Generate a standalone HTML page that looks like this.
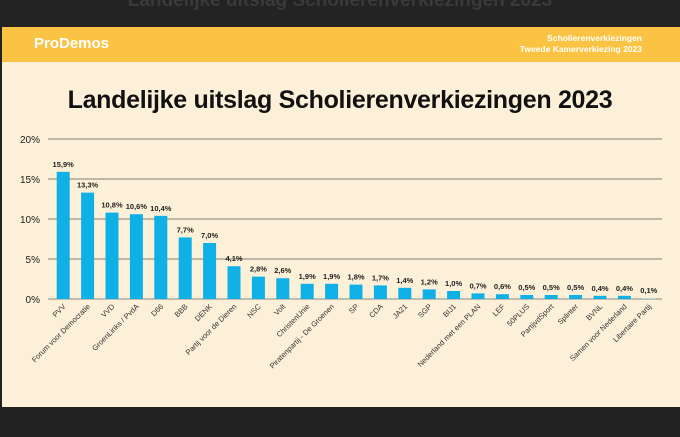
<!DOCTYPE html>
<html><head><meta charset="utf-8"><style>
body{margin:0;width:680px;height:437px;background:#222;overflow:hidden;font-family:"Liberation Sans",sans-serif}
#top{position:absolute;left:0;top:0;width:680px;height:27px;background:#232323;overflow:hidden}
#ghost{position:absolute;left:0;width:680px;top:-10px;text-align:center;color:#3a3a3a;font-size:19px;font-weight:bold}
#hdr{position:absolute;left:2px;top:27px;width:678px;height:35px;background:#fbc343}
#logo{position:absolute;left:32px;top:8px;color:#fff;font-size:15px;font-weight:bold}
#sub{position:absolute;right:38px;top:6px;color:#fff;font-size:8.5px;font-weight:bold;text-align:right;line-height:11px}
#panel{position:absolute;left:2px;top:62px;width:678px;height:345px;background:#fdf0d8}
#title{position:absolute;left:0;width:680px;top:86px;text-align:center;font-size:25px;font-weight:bold;color:#111;letter-spacing:-0.3px}
svg{position:absolute;left:0;top:0}
</style></head><body>
<div id="top"><div id="ghost">Landelijke uitslag Scholierenverkiezingen 2023</div></div>
<div id="hdr"><div id="logo">ProDemos</div><div id="sub">Scholierenverkiezingen<br>Tweede Kamerverkiezing 2023</div></div>
<div id="panel"></div>
<div id="title">Landelijke uitslag Scholierenverkiezingen 2023</div>
<svg id="c" width="680" height="437"></svg>
<script>
const categories=["PVV","Forum voor Democratie","VVD","GroenLinks / PvdA","D66","BBB","DENK","Partij voor de Dieren","NSC","Volt","ChristenUnie","Piratenpartij - De Groenen","SP","CDA","JA21","SGP","BIJ1","Nederland met een PLAN","LEF","50PLUS","PartijvdSport","Splinter","BVNL","Samen voor Nederland","Libertaire Partij"];
const values=[15.9,13.3,10.8,10.6,10.4,7.7,7.0,4.1,2.8,2.6,1.9,1.9,1.8,1.7,1.4,1.2,1.0,0.7,0.6,0.5,0.5,0.5,0.4,0.4,0.1];
const ticks=[0,5,10,15,20];
const svg=document.getElementById('c');const NS='http://www.w3.org/2000/svg';
const x0=51,x1=661,gx0=48,gx1=662,y0=299,yTop=139,yMax=20;
const y=v=>y0-(v/yMax)*(y0-yTop);
const step=(x1-x0)/categories.length;
const xc=i=>x0+step*(i+0.5);
function mk(t,a){const e=document.createElementNS(NS,t);for(const k in a)e.setAttribute(k,a[k]);svg.appendChild(e);return e;}
ticks.forEach(t=>{
 const l=mk('line',{x1:gx0,x2:gx1,y1:y(t),y2:y(t),stroke:t===0?'#888':'#555','stroke-width':t===0?1:0.8});
 
 
 const tx=mk('text',{x:40,y:y(t)+4,'text-anchor':'end','font-size':10,fill:'#222'});tx.textContent=t+'%';
 
 
});
categories.forEach((c,i)=>{
 const w=13,cx=xc(i);
 const r=mk('rect',{x:cx-w/2,y:y(values[i]),width:w,height:y0-y(values[i]),fill:i===24?'#9fd9e6':'#0fb0e6'});
 
 
 const v=mk('text',{x:cx,y:y(values[i])-5,'text-anchor':'middle','font-size':7.5,'font-weight':'bold',fill:'#222'});
 v.textContent=values[i].toFixed(1).replace('.',',')+'%';
 
 
 const lb=mk('text',{x:cx+3,y:y0+8,'text-anchor':'end','font-size':7.5,fill:'#333',transform:`rotate(-45 ${cx+3} ${y0+8})`});
 lb.textContent=c;
 
 
});
</script>
</body></html>
